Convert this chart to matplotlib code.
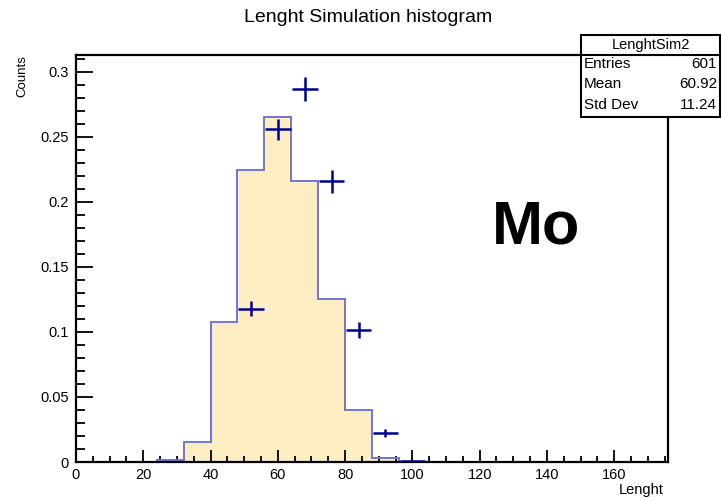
import matplotlib
matplotlib.use("Agg")
import matplotlib.pyplot as plt
from matplotlib.patches import Rectangle
from matplotlib.lines import Line2D
from matplotlib.ticker import MultipleLocator, FuncFormatter

plt.rcParams['font.family'] = ['Liberation Sans', 'DejaVu Sans']

# ---- data ----
sim_edges = [24, 32, 40, 48, 56, 64, 72, 80, 88, 96]
sim_values = [0.0015, 0.015, 0.1075, 0.2245, 0.2655, 0.216, 0.1255, 0.040, 0.003]

data_centers = [52, 60, 68, 76, 84, 92, 100]
data_values = [0.118, 0.256, 0.287, 0.216, 0.1015, 0.0226, 0.0005]
data_errors = [0.006, 0.008, 0.009, 0.0088, 0.006, 0.003, 0.0005]
data_xerr = [3.8] * len(data_centers)

title = "Lenght Simulation histogram"
stats_name = "LenghtSim2"
stats_rows = [("Entries", "601"), ("Mean", "60.92"), ("Std Dev", "11.24")]

W, H = 721, 500
fig = plt.figure(figsize=(W / 100, H / 100), dpi=100)
fig.patch.set_facecolor('white')

L, R, T, B = 76, 668, 55, 462
ax = fig.add_axes([L / W, 1 - B / H, (R - L) / W, (B - T) / H])

ax.stairs(sim_values, sim_edges, baseline=0, fill=True, color='#FCEEC2', zorder=1)
ax.stairs(sim_values, sim_edges, baseline=0, fill=False, edgecolor='#7474D4',
          linewidth=1.4, zorder=2)
ax.errorbar(data_centers, data_values, yerr=data_errors, xerr=data_xerr,
            fmt='none', ecolor='#000090', elinewidth=1.8, capsize=0, zorder=3)

ax.set_xlim(0, 176)
ax.set_ylim(0, 0.313)

ax.xaxis.set_major_locator(MultipleLocator(20))
ax.xaxis.set_minor_locator(MultipleLocator(5))
ax.yaxis.set_major_locator(MultipleLocator(0.05))
ax.yaxis.set_minor_locator(MultipleLocator(0.01))
ax.yaxis.set_major_formatter(FuncFormatter(lambda v, p: ('%g' % round(v, 4))))

ax.tick_params(axis='both', which='both', direction='in', top=False, right=False,
               width=1.3, labelsize=10.5)
ax.tick_params(axis='x', which='major', length=8.5, pad=4)
ax.tick_params(axis='x', which='minor', length=4.3)
ax.tick_params(axis='y', which='major', length=12, pad=5)
ax.tick_params(axis='y', which='minor', length=6.3)
for s in ax.spines.values():
    s.set_linewidth(1.6)

# Titles / labels
fig.text(368 / W, 1 - 17 / H, title, ha='center', va='center', fontsize=14)
fig.text(22 / W, 1 - 55 / H, "Counts", rotation=90, ha='center', va='top', fontsize=9.5)
fig.text(664 / W, 1 - 490 / H, "Lenght", ha='right', va='center', fontsize=10.5)

fig.text(536 / W, 1 - 228 / H, "Mo", ha='center', va='center', fontsize=44,
         fontweight='bold')

# Stats box
bx0, bx1, by0, by1, bsep = 581, 720, 35, 117, 55
fig.patches.append(Rectangle((bx0 / W, 1 - by1 / H), (bx1 - bx0) / W, (by1 - by0) / H,
                             transform=fig.transFigure, facecolor='white',
                             edgecolor='black', linewidth=1.5, zorder=10))
fig.lines.append(Line2D([bx0 / W, bx1 / W], [1 - bsep / H, 1 - bsep / H],
                        transform=fig.transFigure, color='black', linewidth=1.5, zorder=11))
fig.text((bx0 + bx1) / 2 / W, 1 - 45 / H, stats_name, ha='center', va='center',
         fontsize=10.5, zorder=12)
for i, (k, v) in enumerate(stats_rows):
    y = 64 + i * 20.5
    fig.text(584 / W, 1 - y / H, k, ha='left', va='center', fontsize=11, zorder=12)
    fig.text(717 / W, 1 - y / H, v, ha='right', va='center', fontsize=11, zorder=12)

fig.savefig('out.png', dpi=100)
